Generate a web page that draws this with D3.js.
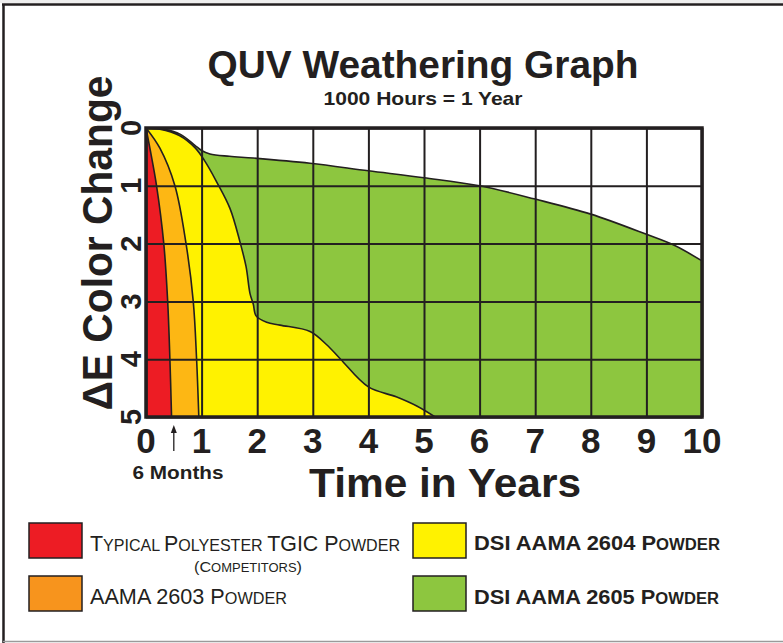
<!DOCTYPE html>
<html><head><meta charset="utf-8">
<script src="https://cdn.jsdelivr.net/npm/d3@7/dist/d3.min.js"></script>
<style>
html,body{margin:0;padding:0;background:#fff;}
svg{display:block;}
text{font-family:"Liberation Sans",Arial,Helvetica,sans-serif;fill:#231f20;}
</style></head>
<body>
<svg id="chart" width="783" height="643"></svg>
<script>
// ---- data ----
const years = [0,1,2,3,4,5,6,7,8,9,10];
const deltaE = [0,1,2,3,4,5];
const seriesNames = ["Typical Polyester TGIC Powder","AAMA 2603 Powder","DSI AAMA 2604 Powder","DSI AAMA 2605 Powder"];
// curves: [years, delta E]
const redCurve = [[0,0],[0.07,0.35],[0.19,1],[0.32,2],[0.39,3],[0.43,4],[0.46,5]];
const orangeCurve = [[0,0],[0.25,0.35],[0.52,1],[0.72,2],[0.85,3],[0.91,4],[0.95,5]];
const yellowCurve = [[0,0],[0.25,0.02],[0.6,0.13],[0.88,0.34],[1.05,0.56],[1.27,0.93],[1.51,1.39],[1.69,1.97],[1.8,2.4],[1.87,2.86],[1.93,3.05],[1.98,3.25],[2.17,3.36],[2.41,3.41],[2.95,3.52],[3.25,3.75],[3.5,4.0],[4.0,4.48],[4.5,4.65],[4.87,4.81],[5.2,5]];
const greenCurve = [[0,0],[0.3,0.02],[0.62,0.11],[0.88,0.3],[1.0,0.39],[1.15,0.45],[1.5,0.49],[1.93,0.52],[2.95,0.61],[4.0,0.74],[5.0,0.86],[6.0,1.0],[7.0,1.23],[8.0,1.49],[9.0,1.84],[9.5,2.03],[10,2.3]];

const W = 783, H = 643;
const svg = d3.select("#chart");
const ink = "#231f20";

// frame
svg.append("rect").attr("x",0).attr("y",0).attr("width",W).attr("height",3).attr("fill","#eeeeee");
svg.append("line").attr("x1",2).attr("x2",W).attr("y1",4.5).attr("y2",4.5).attr("stroke",ink).attr("stroke-width",2.5);
svg.append("line").attr("x1",3.5).attr("x2",3.5).attr("y1",4).attr("y2",H).attr("stroke",ink).attr("stroke-width",2.5);
svg.append("line").attr("x1",3).attr("x2",W).attr("y1",641.5).attr("y2",641.5).attr("stroke","#9a9a9a").attr("stroke-width",1.5);

const x = d3.scaleLinear().domain([0,10]).range([146,702]);
const y = d3.scaleLinear().domain([0,5]).range([128,417]);

svg.append("clipPath").attr("id","plotclip").append("rect")
  .attr("x",x(0)).attr("y",y(0)).attr("width",x(10)-x(0)).attr("height",y(5)-y(0));

const line = d3.line().x(d=>x(d[0])).y(d=>y(d[1])).curve(d3.curveCatmullRom.alpha(0.5));
const g = svg.append("g").attr("clip-path","url(#plotclip)");

function areaPath(curve){
  const last = curve[curve.length-1];
  let p = line(curve);
  if (last[1] < 5) p += "L" + x(last[0]) + "," + y(5);
  p += "L" + x(0) + "," + y(5) + "Z";
  return p;
}
const layers = [
  {c:greenCurve, fill:"#8dc63f"},
  {c:yellowCurve, fill:"#fff200"},
  {c:orangeCurve, fill:"#fdb714"},
  {c:redCurve, fill:"#ed1c24"}
];
layers.forEach(l=>{
  g.append("path").attr("d",areaPath(l.c)).attr("fill",l.fill).attr("stroke","none");
});

// grid via axes
const gx = svg.append("g").attr("transform",`translate(0,${y(5)})`)
  .call(d3.axisBottom(x).tickValues(years).tickSize(-(y(5)-y(0))).tickFormat(""));
gx.select(".domain").remove();
gx.selectAll("line").attr("stroke",ink).attr("stroke-width",2);
const gy = svg.append("g").attr("transform",`translate(${x(0)},0)`)
  .call(d3.axisLeft(y).tickValues(deltaE).tickSize(-(x(10)-x(0))).tickFormat(""));
gy.select(".domain").remove();
gy.selectAll("line").attr("stroke",ink).attr("stroke-width",2);

// curve strokes
layers.forEach(l=>{
  g.append("path").attr("d",line(l.c)).attr("fill","none").attr("stroke",ink).attr("stroke-width",1.6);
});

// plot border
svg.append("rect").attr("x",x(0)).attr("y",y(0)).attr("width",x(10)-x(0)).attr("height",y(5)-y(0))
  .attr("fill","none").attr("stroke",ink).attr("stroke-width",3.5);

function htext(str, cx, by, size, width){
  const t = svg.append("text").attr("x",cx).attr("y",by)
    .attr("text-anchor","middle")
    .attr("font-size",size).attr("font-weight","bold")
    .text(str);
  if (width) t.attr("textLength",width).attr("lengthAdjust","spacingAndGlyphs");
  return t;
}

// titles
htext("QUV Weathering Graph", 423, 78, 39, 431);
htext("1000 Hours = 1 Year", 423, 105, 19, 199);

// x tick labels
years.forEach(v=>{ htext(String(v), x(v), 453, 35); });
// y tick labels
deltaE.forEach(v=>{
  svg.append("text").attr("transform",`translate(141,${y(v)}) rotate(-90)`)
    .attr("text-anchor","middle").attr("font-size",29).attr("font-weight","bold").text(String(v));
});
// y label
svg.append("text").attr("transform",`translate(112,243) rotate(-90)`)
  .attr("text-anchor","middle").attr("font-size",43).attr("font-weight","bold")
  .attr("textLength",335).attr("lengthAdjust","spacingAndGlyphs").text("ΔE Color Change");

// x label
htext("Time in Years", 445, 497, 40, 272);

// 6 months arrow
const ax = x(0.5);
svg.append("line").attr("x1",ax).attr("x2",ax).attr("y1",451).attr("y2",430).attr("stroke",ink).attr("stroke-width",1.3);
svg.append("path").attr("d",`M${ax-3},${433} L${ax},${425} L${ax+3},${433} Z`).attr("fill",ink);
htext("6 Months", 178, 479, 18, 91);

// legend
const legendBoxes = [
  {x:29,y:523,fill:"#ed1c24"},
  {x:29,y:576,fill:"#f7941d"},
  {x:413,y:523,fill:"#fff200"},
  {x:413,y:576,fill:"#8dc63f"}
];
legendBoxes.forEach(b=>{
  svg.append("rect").attr("x",b.x).attr("y",b.y).attr("width",53).attr("height",35)
    .attr("fill",b.fill).attr("stroke",ink).attr("stroke-width",1.5);
});
function smallCaps(parts, tx, by, big, small, weight, width){
  const t = svg.append("text").attr("x",tx).attr("y",by).attr("font-weight",weight);
  parts.forEach(p=>{
    t.append("tspan").attr("font-size",p[1]?big:small).text(p[0]);
  });
  if (width) t.attr("textLength",width).attr("lengthAdjust","spacingAndGlyphs");
  return t;
}
smallCaps([["T",1],["YPICAL ",0],["P",1],["OLYESTER ",0],["TGIC P",1],["OWDER",0]], 90, 551, 22, 16.5, "normal", 310);
smallCaps([["(",1],["C",1],["OMPETITORS",0],[")",1]], 194, 572, 15, 12, "normal", 108);
smallCaps([["AAMA 2603 P",1],["OWDER",0]], 90, 604, 22, 16.5, "normal", 197);
smallCaps([["DSI AAMA 2604 P",1],["OWDER",0]], 474, 550, 21, 16, "bold", 246);
smallCaps([["DSI AAMA 2605 P",1],["OWDER",0]], 474, 604, 21, 16, "bold", 245);
</script>
</body></html>
